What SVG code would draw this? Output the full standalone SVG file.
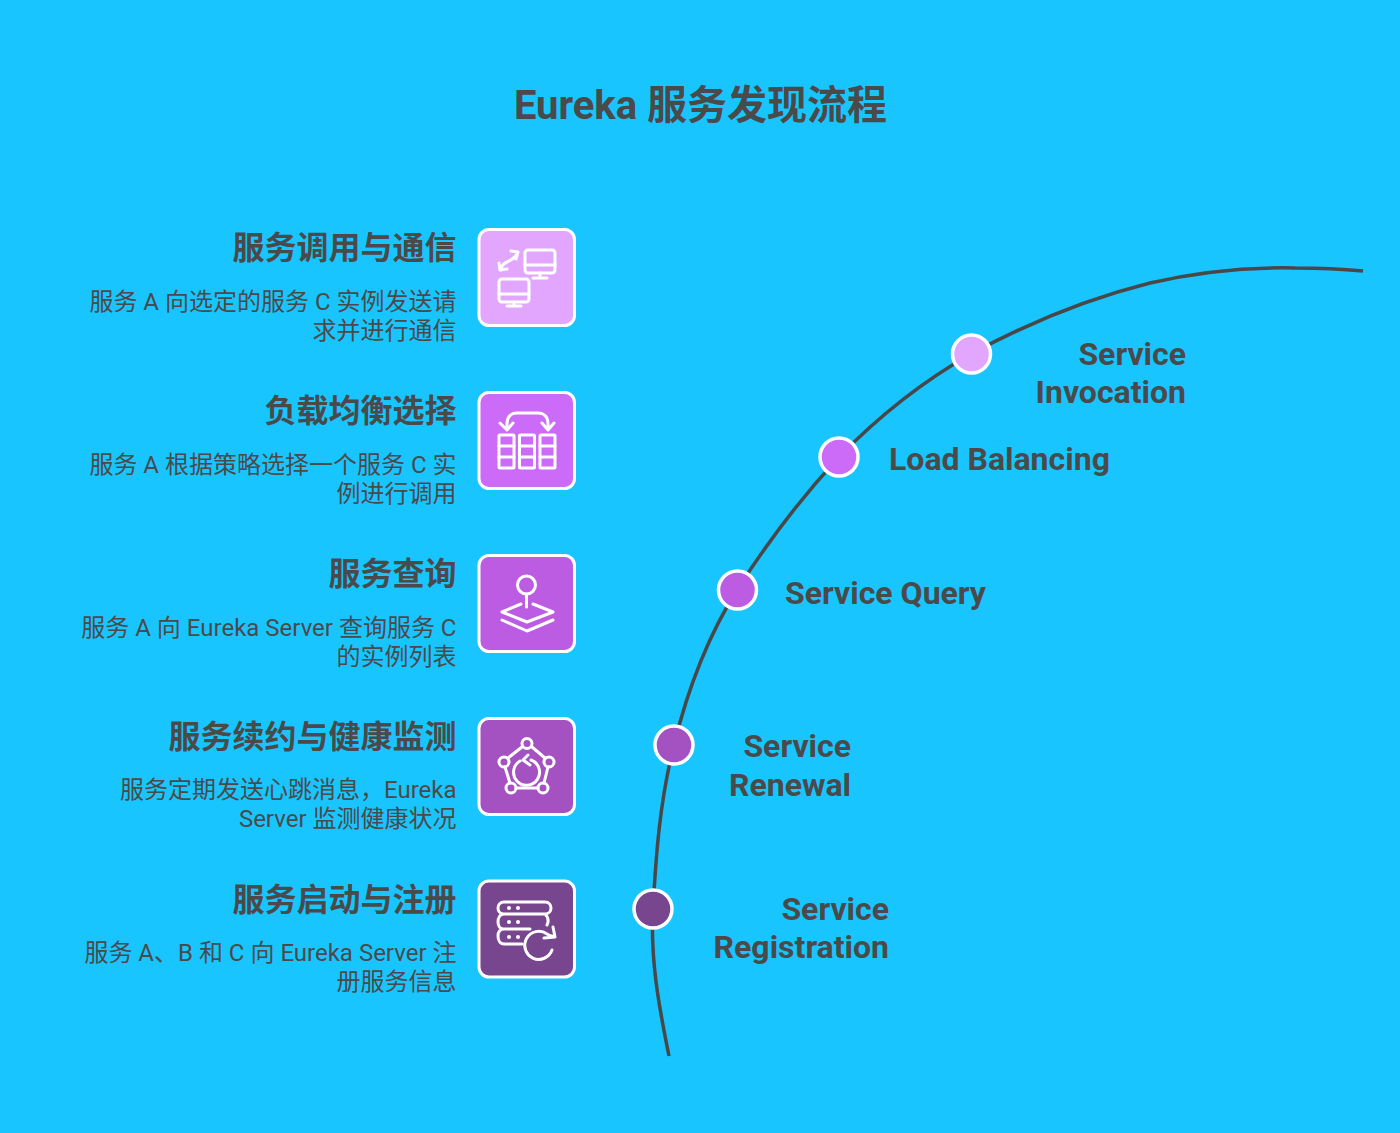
<svg xmlns="http://www.w3.org/2000/svg" width="1400" height="1133" viewBox="0 0 1400 1133">
<style>
text{fill:#4a4a4a;font-family:Roboto,"Noto Sans CJK SC",sans-serif}
.t{font-size:40px;font-weight:700;text-anchor:middle}
.h{font-size:32px;font-weight:700;text-anchor:end}
.d{font-size:24px;text-anchor:end}
.l{font-size:32px;font-weight:700;text-anchor:end}
.ls{font-size:32px;font-weight:700;text-anchor:start}
.box{stroke:#fff;stroke-width:3px}
.dot{stroke:#fff;stroke-width:3.5px}
.i{fill:none;stroke:#fff;stroke-width:3px;stroke-linecap:round;stroke-linejoin:round}
.p{fill:#fff;stroke:none}
</style>
<rect width="1400" height="1133" fill="#19c5ff"/>
<text class="t" x="700.500" y="119">Eureka 服务发现流程</text>
<g id="connectors"><path d="M669 1056C659 1007 650 958 653 909C656 854 660 800 674 745C687 692 708 636 737 590C765 546 802 497 839 457C880 415 925 380 971 354C1030 322 1090 298 1150 283C1198 272 1250 267 1295 268C1320 268 1342 269 1363 271" fill="none" stroke="#484848" stroke-width="3.500"/></g>
<g id="node-invocation">
<rect class="box" x="479" y="229.500" width="95.500" height="96" rx="10" fill="#e3a6ff"/>
<g class="i"><rect x="525" y="250" width="30" height="23" rx="3"/><path d="M525 265H555M540 273V277M533 278H547"/><rect x="499" y="279" width="30" height="23" rx="3"/><path d="M499 294H529M514 302V306M507 306H521"/><path d="M501 269C502 260 514 263 517 253M511 251L518 252L516 259M499 263L500 270L507 269"/></g>
<text class="h" x="456.500" y="259">服务调用与通信</text>
<text class="d" x="456.500" y="309.500">服务 A 向选定的服务 C 实例发送请</text><text class="d" x="456.500" y="338.500">求并进行通信</text>
<circle class="dot" cx="971.500" cy="354" r="19" fill="#e3a6ff"/>
<text class="l" x="1186" y="365">Service</text><text class="l" x="1186" y="403">Invocation</text>
</g>
<g id="node-balancing">
<rect class="box" x="479" y="392.500" width="95.500" height="96" rx="10" fill="#cc6bf7"/>
<g class="i"><rect x="499" y="435" width="15" height="33" rx="1"/><rect x="519.500" y="435" width="15" height="33" rx="1"/><rect x="540" y="435" width="15" height="33" rx="1"/><path d="M499 446H514M499 457H514M519.500 446H534.500M519.500 457H534.500M540 446H555M540 457H555"/><path d="M507 429V424C507 417 511 413 517 413H538C544 413 548 417 548 424V429M500 423L507 430L513 423M542 423L548 430L554 423"/></g>
<text class="h" x="456.500" y="422">负载均衡选择</text>
<text class="d" x="456.500" y="472.500">服务 A 根据策略选择一个服务 C 实</text><text class="d" x="456.500" y="501.500">例进行调用</text>
<circle class="dot" cx="839" cy="457" r="19" fill="#cc6bf7"/>
<text class="ls" x="889" y="470">Load Balancing</text>
</g>
<g id="node-query">
<rect class="box" x="479" y="555.500" width="95.500" height="96" rx="10" fill="#bc5ce3"/>
<g class="i"><circle cx="526.500" cy="585" r="9"/><path d="M526.500 594V607M521 604L502 612L527 622L553 612L533 604M502 620L527 631L553 620"/></g>
<text class="h" x="456.500" y="585">服务查询</text>
<text class="d" x="456.500" y="635.500">服务 A 向 Eureka Server 查询服务 C</text><text class="d" x="456.500" y="664.500">的实例列表</text>
<circle class="dot" cx="737.500" cy="590" r="19" fill="#bc5ce3"/>
<text class="ls" x="785" y="604">Service Query</text>
</g>
<g id="node-renewal">
<rect class="box" x="479" y="718.500" width="95.500" height="96" rx="10" fill="#a452c2"/>
<g class="i"><circle cx="527" cy="743.500" r="5"/><circle cx="549" cy="762" r="5"/><circle cx="543" cy="788" r="5"/><circle cx="511" cy="788" r="5"/><circle cx="504" cy="762" r="5"/><path d="M522 747L508 758M532 747L545 758M548 767L544 783M516 788H538M505 767L510 783"/><path d="M520 761A13 13 0 1 0 531 760M528 755L523 760L530 765"/></g>
<text class="h" x="456.500" y="748">服务续约与健康监测</text>
<text class="d" x="456.500" y="797.500">服务定期发送心跳消息，Eureka</text><text class="d" x="456.500" y="826.500">Server 监测健康状况</text>
<circle class="dot" cx="674" cy="745" r="19" fill="#a452c2"/>
<text class="l" x="851" y="757">Service</text><text class="l" x="851" y="796">Renewal</text>
</g>
<g id="node-registration">
<rect class="box" x="479" y="881" width="95.500" height="96" rx="10" fill="#78468f"/>
<g class="i"><path d="M504 902H545C549 902 551 905 551 908C551 911 549 914 545 914H504C500 914 498 911 498 908C498 905 500 902 504 902ZM504 914C500 914 498 918 498 922C498 926 500 929 504 929H530M545 914C548 917 549 921 547 925M504 929C500 929 498 932 498 936C498 940 500 944 504 944H522"/><path d="M552 950A14 14 0 1 1 547 934C550 936 552 936 555 937M553 927L555 937L544 938"/></g>
<g class="p"><circle cx="509" cy="908" r="2"/><circle cx="518" cy="908" r="2"/><circle cx="509" cy="922" r="2"/><circle cx="518" cy="922" r="2"/><circle cx="509" cy="937" r="2"/><circle cx="518" cy="937" r="2"/></g>
<text class="h" x="456.500" y="911">服务启动与注册</text>
<text class="d" x="456.500" y="960.500">服务 A、B 和 C 向 Eureka Server 注</text><text class="d" x="456.500" y="989.500">册服务信息</text>
<circle class="dot" cx="653" cy="909" r="19" fill="#78468f"/>
<text class="l" x="889" y="920">Service</text><text class="l" x="889" y="958">Registration</text>
</g>
</svg>
